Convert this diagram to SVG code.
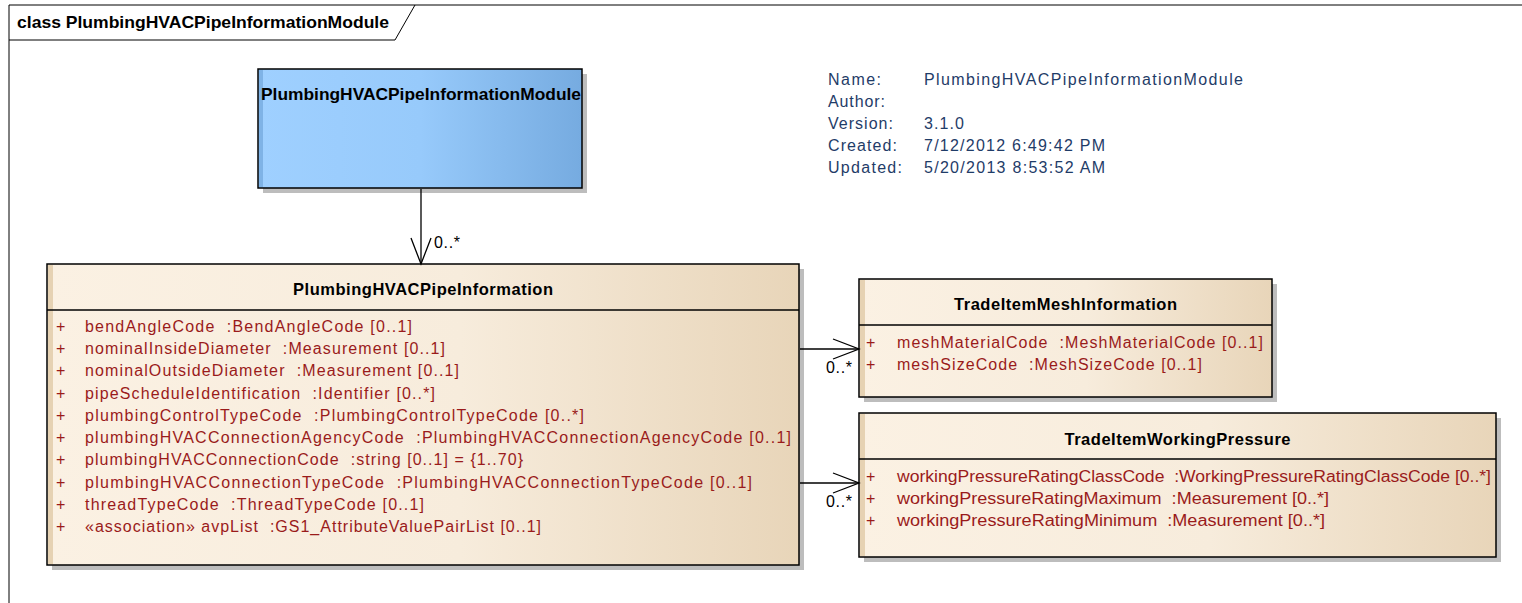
<svg xmlns="http://www.w3.org/2000/svg" width="1522" height="603" viewBox="0 0 1522 603">
<style>
text{font-family:"Liberation Sans",Arial,sans-serif;font-size:16px;white-space:pre}
.b{font-weight:bold;fill:#000;font-size:16.5px}
.attr{fill:#9A1B1B}
.info{fill:#1F3C68}
.mult{fill:#000}
.box{stroke:#000;stroke-width:1.5}
.shadow{fill:#BDBDBD}
.div{stroke:#000;stroke-width:1.5}
.stripe{fill:#E6D2B3}
.conn{stroke:#000;stroke-width:1.3;fill:none}
</style>
<defs>
<linearGradient id="tan" x1="0" y1="0" x2="1" y2="0">
<stop offset="0" stop-color="#FBF1E3"/>
<stop offset="0.55" stop-color="#F7ECDC"/>
<stop offset="1" stop-color="#E8D5B9"/>
</linearGradient>
<linearGradient id="blue" x1="0" y1="0" x2="1" y2="0">
<stop offset="0" stop-color="#9FD0FF"/>
<stop offset="0.5" stop-color="#97CAFB"/>
<stop offset="1" stop-color="#76ABE0"/>
</linearGradient>
<marker id="open" markerUnits="userSpaceOnUse" viewBox="-28 -12 30 24" markerWidth="30" markerHeight="24" refX="0" refY="0" orient="auto">
<path d="M-26,-10 L0,0 L-26,10" fill="none" stroke="#000" stroke-width="1.3"/>
</marker>
</defs>
<rect width="1522" height="603" fill="#fff"/>
<g id="frame">
<path d="M9,603 V5 H1522" fill="none" stroke="#000" stroke-width="1"/>
<path d="M9,40 H395 L415,5" fill="none" stroke="#000" stroke-width="1"/>
<text class="b" x="17" y="28" textLength="372" lengthAdjust="spacingAndGlyphs">class PlumbingHVACPipeInformationModule</text>
</g>
<g id="info">
<text class="info" x="828" y="85" textLength="53">Name:</text>
<text class="info" x="828" y="107" textLength="57">Author:</text>
<text class="info" x="828" y="129" textLength="65">Version:</text>
<text class="info" x="828" y="151" textLength="69">Created:</text>
<text class="info" x="828" y="173" textLength="74">Updated:</text>
<text class="info" x="924" y="85" textLength="319">PlumbingHVACPipeInformationModule</text>
<text class="info" x="924" y="129" textLength="40">3.1.0</text>
<text class="info" x="924" y="151" textLength="181">7/12/2012 6:49:42 PM</text>
<text class="info" x="924" y="173" textLength="181">5/20/2013 8:53:52 AM</text>
</g>
<g id="PlumbingHVACPipeInformationModule">
<rect class="shadow" x="263" y="74" width="324" height="119"/>
<rect class="box" x="258" y="69" width="324" height="119" fill="url(#blue)"/>
<rect x="259" y="70" width="4" height="117" fill="#7FB3E6"/>
<text class="b" x="261" y="100" textLength="320" lengthAdjust="spacingAndGlyphs">PlumbingHVACPipeInformationModule</text>
</g>
<g id="PlumbingHVACPipeInformation">
<rect class="shadow" x="52" y="269" width="752" height="301"/>
<rect class="box" x="47" y="264" width="752" height="301" fill="url(#tan)"/>
<rect class="stripe" x="48" y="265" width="5" height="299"/>
<line class="div" x1="47" y1="310" x2="799" y2="310"/>
<text class="b" x="423" y="295" text-anchor="middle" textLength="260">PlumbingHVACPipeInformation</text>
<text class="attr" x="56" y="332">+</text>
<text class="attr" x="56" y="354">+</text>
<text class="attr" x="56" y="376">+</text>
<text class="attr" x="56" y="399">+</text>
<text class="attr" x="56" y="421">+</text>
<text class="attr" x="56" y="443">+</text>
<text class="attr" x="56" y="465">+</text>
<text class="attr" x="56" y="488">+</text>
<text class="attr" x="56" y="510">+</text>
<text class="attr" x="56" y="532">+</text>
<text class="attr" x="85" y="332" textLength="327">bendAngleCode  :BendAngleCode [0..1]</text>
<text class="attr" x="85" y="354" textLength="360">nominalInsideDiameter  :Measurement [0..1]</text>
<text class="attr" x="85" y="376" textLength="374">nominalOutsideDiameter  :Measurement [0..1]</text>
<text class="attr" x="85" y="399" textLength="350">pipeScheduleIdentification  :Identifier [0..*]</text>
<text class="attr" x="85" y="421" textLength="499">plumbingControlTypeCode  :PlumbingControlTypeCode [0..*]</text>
<text class="attr" x="85" y="443" textLength="706">plumbingHVACConnectionAgencyCode  :PlumbingHVACConnectionAgencyCode [0..1]</text>
<text class="attr" x="85" y="465" textLength="438">plumbingHVACConnectionCode  :string [0..1] = {1..70}</text>
<text class="attr" x="85" y="488" textLength="667">plumbingHVACConnectionTypeCode  :PlumbingHVACConnectionTypeCode [0..1]</text>
<text class="attr" x="85" y="510" textLength="339">threadTypeCode  :ThreadTypeCode [0..1]</text>
<text class="attr" x="85" y="532" textLength="456">«association» avpList  :GS1_AttributeValuePairList [0..1]</text>
</g>
<g id="TradeItemMeshInformation">
<rect class="shadow" x="864" y="284" width="413" height="118"/>
<rect class="box" x="859" y="279" width="413" height="118" fill="url(#tan)"/>
<rect class="stripe" x="860" y="280" width="5" height="116"/>
<line class="div" x1="859" y1="325" x2="1272" y2="325"/>
<text class="b" x="1065.5" y="310" text-anchor="middle" textLength="223">TradeItemMeshInformation</text>
<text class="attr" x="866" y="348">+</text>
<text class="attr" x="866" y="370">+</text>
<text class="attr" x="897" y="348" textLength="366">meshMaterialCode  :MeshMaterialCode [0..1]</text>
<text class="attr" x="897" y="370" textLength="305">meshSizeCode  :MeshSizeCode [0..1]</text>
</g>
<g id="TradeItemWorkingPressure">
<rect class="shadow" x="864" y="418" width="637" height="144"/>
<rect class="box" x="859" y="413" width="637" height="144" fill="url(#tan)"/>
<rect class="stripe" x="860" y="414" width="5" height="142"/>
<line class="div" x1="859" y1="459" x2="1496" y2="459"/>
<text class="b" x="1177.5" y="445" text-anchor="middle" textLength="226">TradeItemWorkingPressure</text>
<text class="attr" x="866" y="482">+</text>
<text class="attr" x="866" y="504">+</text>
<text class="attr" x="866" y="526">+</text>
<text class="attr" x="897" y="482" textLength="594" lengthAdjust="spacingAndGlyphs">workingPressureRatingClassCode  :WorkingPressureRatingClassCode [0..*]</text>
<text class="attr" x="897" y="504" textLength="432" lengthAdjust="spacingAndGlyphs">workingPressureRatingMaximum  :Measurement [0..*]</text>
<text class="attr" x="897" y="526" textLength="428" lengthAdjust="spacingAndGlyphs">workingPressureRatingMinimum  :Measurement [0..*]</text>
</g>
<g id="connectors">
<line class="conn" x1="421" y1="189" x2="421" y2="264" marker-end="url(#open)"/>
<text class="mult" x="434" y="248" textLength="26">0..*</text>
<line class="conn" x1="800" y1="349" x2="859" y2="349" marker-end="url(#open)"/>
<text class="mult" x="826" y="373" textLength="26">0..*</text>
<line class="conn" x1="800" y1="483" x2="859" y2="483" marker-end="url(#open)"/>
<text class="mult" x="826" y="507" textLength="26">0..*</text>
</g>
</svg>
